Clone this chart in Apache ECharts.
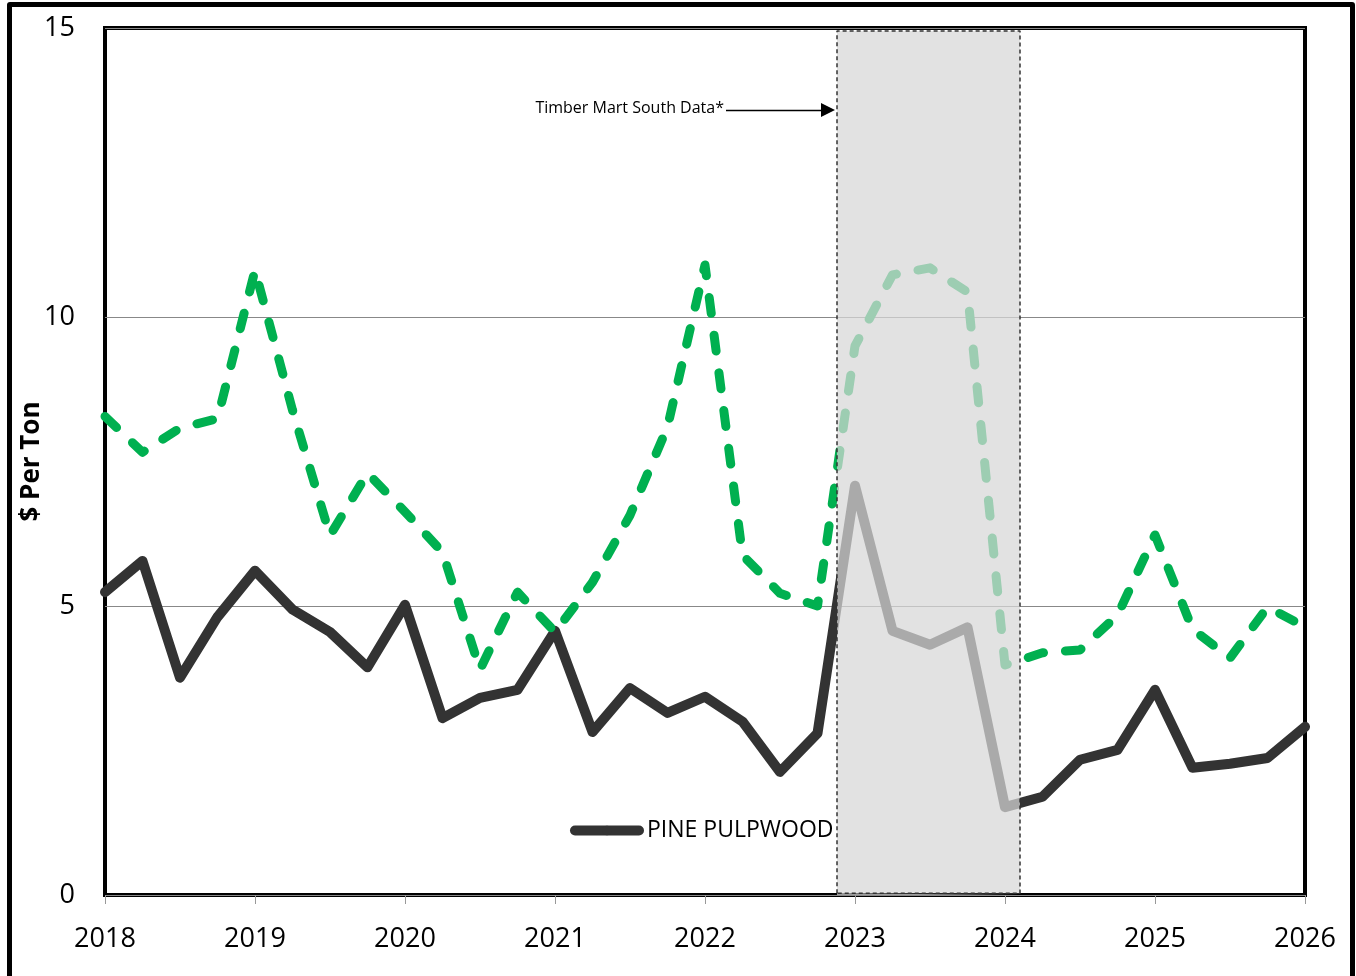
<!DOCTYPE html>
<html>
<head>
<meta charset="utf-8">
<script src="https://cdn.jsdelivr.net/npm/echarts@6/dist/echarts.min.js"></script>
<style>
  html, body { margin: 0; padding: 0; background: #fff; overflow: hidden; }
  #frame { position: absolute; left: 7px; top: 2px; width: 1338px; height: 1000px; border: 5px solid #000; border-radius: 3px; z-index: 0; }
  #chart { position: absolute; left: 0; top: 0; width: 1356px; height: 976px; z-index: 1; }
</style>
</head>
<body>
<div id="frame"></div>
<div id="chart"></div>
<script>
// Quarterly time points (decimal years)
const quarters = [2018, 2018.25, 2018.5, 2018.75, 2019, 2019.25, 2019.5, 2019.75,
                  2020, 2020.25, 2020.5, 2020.75, 2021, 2021.25, 2021.5, 2021.75,
                  2022, 2022.25, 2022.5, 2022.75, 2023, 2023.25, 2023.5, 2023.75,
                  2024, 2024.25, 2024.5, 2024.75, 2025, 2025.25, 2025.5, 2025.75, 2026];
// Pine pulpwood ($ per ton)
const pinePulpwood = [5.24, 5.78, 3.76, 4.81, 5.61, 4.94, 4.55, 3.94,
                      5.02, 3.06, 3.41, 3.55, 4.57, 2.82, 3.58, 3.15,
                      3.43, 3.00, 2.13, 2.80, 7.08, 4.57, 4.33, 4.63,
                      1.52, 1.70, 2.34, 2.51, 3.55, 2.20, 2.27, 2.37, 2.91];
// Green dashed series ($ per ton)
const greenSeries = [8.28, 7.66, 8.08, 8.24, 10.81, 8.39, 6.22, 7.30,
                     6.63, 5.93, 3.90, 5.24, 4.55, 5.41, 6.57, 8.10,
                     10.90, 5.88, 5.22, 5.00, 9.50, 10.73, 10.85, 10.43,
                     3.98, 4.19, 4.24, 4.84, 6.23, 4.60, 4.10, 4.98, 4.64];
// Shaded period (Timber Mart South data)
const shadeStart = 2022.88;
const shadeEnd = 2024.1;
const xTicks = [2018, 2019, 2020, 2021, 2022, 2023, 2024, 2025, 2026];
const yTicks = [0, 5, 10, 15];
const legendName = 'PINE PULPWOOD';
const annotationText = 'Timber Mart South Data*';
const yAxisTitle = '$ Per Ton';

const FONT = 'Open Sans';
const pair = (xs, ys) => xs.map((x, i) => [x, ys[i]]);
const yMax = yTicks[yTicks.length - 1];

const chart = echarts.init(document.getElementById('chart'), null, { renderer: 'canvas' });
const option = {
  animation: false,
  textStyle: { fontFamily: FONT },
  grid: { left: 105, right: 51, top: 28, bottom: 81, show: true, borderColor: '#000', borderWidth: 4, backgroundColor: 'transparent' },
  legend: {
    data: [legendName], left: 565, top: 814, itemWidth: 64, itemHeight: 12,
    lineStyle: { width: 10, cap: 'round' },
    textStyle: { fontFamily: FONT, fontSize: 23, color: '#000', padding: [0, 0, 0, 3] }
  },
  xAxis: {
    type: 'value', min: xTicks[0], max: xTicks[xTicks.length - 1], interval: 1,
    axisLine: { show: false },
    axisTick: { show: true, length: 9, lineStyle: { color: '#999', width: 1 } },
    splitLine: { show: false },
    axisLabel: { fontFamily: FONT, fontSize: 27, color: '#000', margin: 31, formatter: v => String(v) }
  },
  yAxis: {
    type: 'value', min: yTicks[0], max: yMax, interval: 5,
    name: yAxisTitle, nameLocation: 'middle', nameGap: 60, nameMoveOverlap: false,
    nameTextStyle: { fontFamily: FONT, fontWeight: 'bold', fontSize: 26, color: '#000' },
    axisLine: { show: false }, axisTick: { show: false },
    splitLine: { lineStyle: { color: '#888', width: 1 } },
    axisLabel: { fontFamily: FONT, fontSize: 27, color: '#000', margin: 30 }
  },
  series: [
    {
      name: legendName, type: 'line', z: 3, symbol: 'none',
      data: pair(quarters, pinePulpwood),
      itemStyle: { color: '#333333' },
      lineStyle: { color: '#333333', width: 10, join: 'round', cap: 'round' },
      markLine: {
        silent: true, symbol: ['none', 'triangle'], symbolSize: 14,
        lineStyle: { color: '#000', width: 1.3, type: 'solid' },
        itemStyle: { color: '#000' },
        label: { show: true, position: 'start', formatter: annotationText, fontFamily: FONT, fontSize: 16, color: '#000', distance: 2, offset: [0, -2] },
        data: [[{ coord: [2022.14, 13.58] }, { coord: [2022.82, 13.58] }]]
      }
    },
    {
      name: 'green', type: 'line', z: 4, symbol: 'none',
      data: pair(quarters, greenSeries),
      itemStyle: { color: '#00B050' },
      lineStyle: { color: '#00B050', width: 9, type: [16, 22], cap: 'round', join: 'round' }
    },
    {
      name: 'shade', type: 'line', z: 10, symbol: 'none', silent: true,
      data: [[shadeStart, 0.03], [shadeStart, 14.95], [shadeEnd, 14.95], [shadeEnd, 0.03], [shadeStart, 0.03]],
      lineStyle: { color: '#333', width: 1.5, type: [4, 3] },
      areaStyle: { color: 'rgba(215,215,215,0.73)', origin: 'start', opacity: 1 }
    }
  ]
};
chart.setOption(option);
</script>
</body>
</html>
